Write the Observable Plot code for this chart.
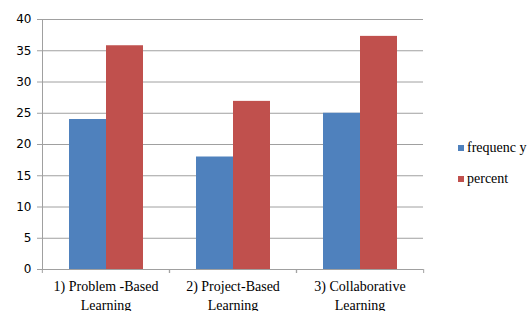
<!DOCTYPE html>
<html>
<head>
<meta charset="utf-8">
<script src="https://cdn.jsdelivr.net/npm/d3@7"></script>
<script src="https://cdn.jsdelivr.net/npm/@observablehq/plot@0.6"></script>
<style>
  html, body { margin: 0; padding: 0; background: #fff; }
  #wrap { position: relative; width: 531px; height: 311px; overflow: hidden; }
  #legend { position: absolute; left: 458px; top: 140px; font-family: "Liberation Serif", serif; font-size: 14px; color: #000; }
  .item { position: absolute; left: 0; white-space: nowrap; height: 16px; line-height: 16px; }
  .sw { display: inline-block; width: 6px; height: 6px; margin-right: 3px; vertical-align: 1px; }
</style>
</head>
<body>
<div id="wrap">
  <div id="chart"></div>
  <div id="legend"></div>
</div>
<script>
const categories = ["1) Problem -Based\nLearning", "2) Project-Based\nLearning", "3) Collaborative\nLearning"];
const series = ["frequency", "percent"];
const seriesLabels = ["frequenc y", "percent"];
const frequency = [24, 18, 25];
const percent = [35.8, 26.9, 37.3];
const yTicks = [0, 5, 10, 15, 20, 25, 30, 35, 40];
const colors = ["#4F81BD", "#C0504D"];

const data = categories.flatMap((c, i) => [
  {category: c, series: "frequency", value: frequency[i]},
  {category: c, series: "percent", value: percent[i]}
]);

const W = 531, H = 311, mL = 41, mR = 108;
const band = (W - mL - mR) / categories.length;

const plot = Plot.plot({
  width: W, height: H,
  marginLeft: mL, marginRight: mR, marginTop: 19, marginBottom: 42,
  style: {fontFamily: "'Liberation Serif', serif", fontSize: "14px", color: "#000", background: "#fff", overflow: "visible"},
  fx: {domain: categories, padding: 0, label: null},
  x: {domain: series, paddingOuter: 0.7, paddingInner: 0, axis: null},
  y: {domain: [0, 40], ticks: yTicks, label: null, axis: null},
  color: {domain: series, range: colors},
  marks: [
    Plot.gridY(yTicks, {stroke: "#a0a0a0", strokeOpacity: 1, strokeWidth: 1}),
    Plot.barY(data, {fx: "category", x: "series", y: "value", fill: "series"}),
    Plot.frame({anchor: "left", facetAnchor: "left", stroke: "#a0a0a0", strokeOpacity: 1}),
    Plot.ruleY([0], {stroke: "#a0a0a0"}),
    Plot.axisY(yTicks, {anchor: "left", tickSize: 5, tickPadding: 6, stroke: "#a0a0a0", fill: "#000",
      fontFamily: "'DejaVu Sans', sans-serif", fontSize: 12, label: null}),
    Plot.axisFx({anchor: "bottom", tickSize: 0, tickPadding: 9, label: null, lineHeight: 1.3, fill: "#000"}),
    Plot.axisFx({anchor: "bottom", tickSize: 4, text: null, label: null, dx: -band / 2, stroke: "#a0a0a0"}),
    Plot.axisFx([categories[categories.length - 1]], {anchor: "bottom", tickSize: 4, text: null, label: null, dx: band / 2, stroke: "#a0a0a0"})
  ]
});
document.getElementById("chart").appendChild(plot);

const legend = document.getElementById("legend");
series.forEach((s, i) => {
  const d = document.createElement("div");
  d.className = "item";
  d.style.top = (i * 31) + "px";
  const sw = document.createElement("span");
  sw.className = "sw";
  sw.style.background = colors[i];
  d.appendChild(sw);
  d.appendChild(document.createTextNode(seriesLabels[i]));
  legend.appendChild(d);
});
</script>
</body>
</html>
